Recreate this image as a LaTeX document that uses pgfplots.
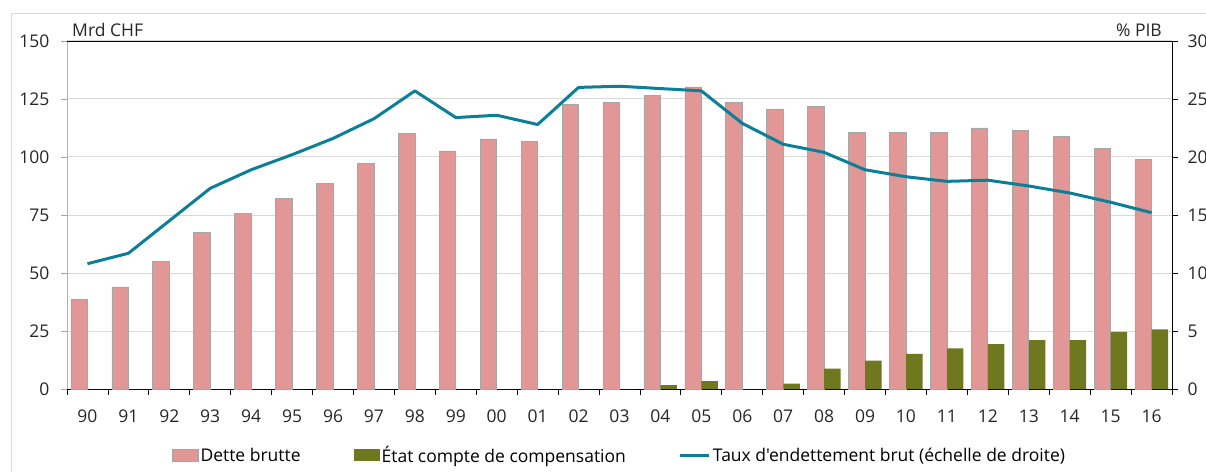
\documentclass[border=0pt]{standalone}
\usepackage{fontspec}
\setmainfont{Open Sans}[Ligatures=TeXOff]
\usepackage{pgfplots}
\usepackage{pgfplotstable}
\pgfplotsset{compat=1.18}
\definecolor{dette}{HTML}{E09795}
\definecolor{etat}{HTML}{6F781E}
\definecolor{taux}{HTML}{0C7F98}
\definecolor{gridg}{HTML}{D9D9D9}
\newcommand{\chf}{\fontsize{17.5}{21}\selectfont}
\pgfplotstableread{
x dette etat taux
0 38.5 0 10.8
1 44 0 11.7
2 55 0 14.5
3 67.5 0 17.3
4 75.6 0 18.9
5 82 0 20.2
6 88.5 0 21.6
7 97.1 0 23.3
8 110 0 25.7
9 102.6 0 23.4
10 107.8 0 23.6
11 106.6 0 22.8
12 122.5 0 26.0
13 123.6 0 26.1
14 126.6 1.7 25.9
15 130.2 3.4 25.7
16 123.6 0 22.9
17 120.7 2.3 21.1
18 121.7 8.8 20.4
19 110.6 12.2 18.9
20 110.6 15.1 18.3
21 110.6 17.5 17.9
22 112.5 19.3 18.0
23 111.3 21.1 17.5
24 108.9 21.1 16.9
25 103.6 24.6 16.1
26 98.8 25.7 15.2
}\data
\begin{document}
\begin{tikzpicture}
\begin{axis}[name=ax, scale only axis, width=1105pt, height=348pt,
  xmin=-0.5, xmax=26.5, ymin=0, ymax=150,
  axis x line=bottom, axis y line=left, axis line style={-},
  x axis line style={black, line width=0.8pt},
  y axis line style={gray!60, line width=0.8pt},
  xtick={0,...,26},
  xticklabels={90,91,92,93,94,95,96,97,98,99,00,01,02,03,04,05,06,07,08,09,10,11,12,13,14,15,16},
  major x tick style={draw=none},
  minor xtick={-0.5,0.5,...,26.5},
  minor x tick style={black, line width=0.8pt},
  minor tick length=6pt, major tick length=6pt,
  tick align=outside,
  ytick={0,25,...,150},
  y tick style={gray!70, line width=0.8pt},
  ymajorgrids, grid style={gridg, line width=1pt},
  /pgf/number format/assume math mode=true,
  tick label style={font=\chf, text=black!85},
  xticklabel style={yshift=-11pt},
  yticklabel style={xshift=-8pt},
  clip=false,
  legend style={draw=none, at={(0.5,-0.19)}, anchor=center, font=\chf,
    legend columns=3, /tikz/every even column/.append style={column sep=51pt}},
]
\addplot[ybar, bar width=16.5pt, bar shift=-8.3pt, fill=dette, draw=gray!70, line width=0.6pt,
  legend image code/.code={\fill[fill=dette, draw=gray!70] (0pt,-6pt) rectangle (26pt,6pt);}]
  table[x=x,y=dette]{\data};
\addlegendentry{Dette brutte}
\addplot[ybar, bar width=16.5pt, bar shift=8.3pt, fill=etat, draw=none,
  legend image code/.code={\fill[fill=etat] (0pt,-6pt) rectangle (26pt,6pt);}]
  table[x=x,y=etat]{\data};
\addlegendentry{État compte de compensation}
\addlegendimage{legend image code/.code={\draw[taux, line width=3pt] (0pt,0pt) -- (29pt,0pt);}}
\addlegendentry{Taux d'endettement brut (échelle de droite)}
\draw[black, line width=0.8pt] (rel axis cs:0,1) -- (rel axis cs:1,1);
\end{axis}
\begin{axis}[scale only axis, width=1105pt, height=348pt,
  at={(ax.south west)}, anchor=south west,
  xmin=-0.5, xmax=26.5, ymin=0, ymax=30,
  axis x line=none, axis y line=right, axis line style={-, black, line width=0.8pt},
  ytick={0,5,...,30}, tick align=outside, major tick length=6pt,
  y tick style={black, line width=0.8pt},
  /pgf/number format/assume math mode=true,
  tick label style={font=\chf, text=black!85},
  yticklabel style={xshift=6pt},
]
\addplot[taux, line width=3pt, line join=round] table[x=x,y=taux]{\data};
\end{axis}
\draw[gridg, line width=1pt] ([shift={(-55pt,375pt)}]ax.south west) rectangle ([shift={(1150pt,-95pt)}]ax.south west);
\node[anchor=base west, font=\chf, text=black!85, inner sep=0pt] at ([shift={(5pt,352pt)}]ax.south west) {Mrd CHF};
\node[anchor=base east, font=\chf, text=black!85, inner sep=0pt] at ([shift={(1095pt,352pt)}]ax.south west) {\% PIB};
\pgfresetboundingbox
\path ([shift={(-67pt,-82pt)}]ax.south west) rectangle ([shift={(1139pt,389pt)}]ax.south west);
\end{tikzpicture}
\end{document}
